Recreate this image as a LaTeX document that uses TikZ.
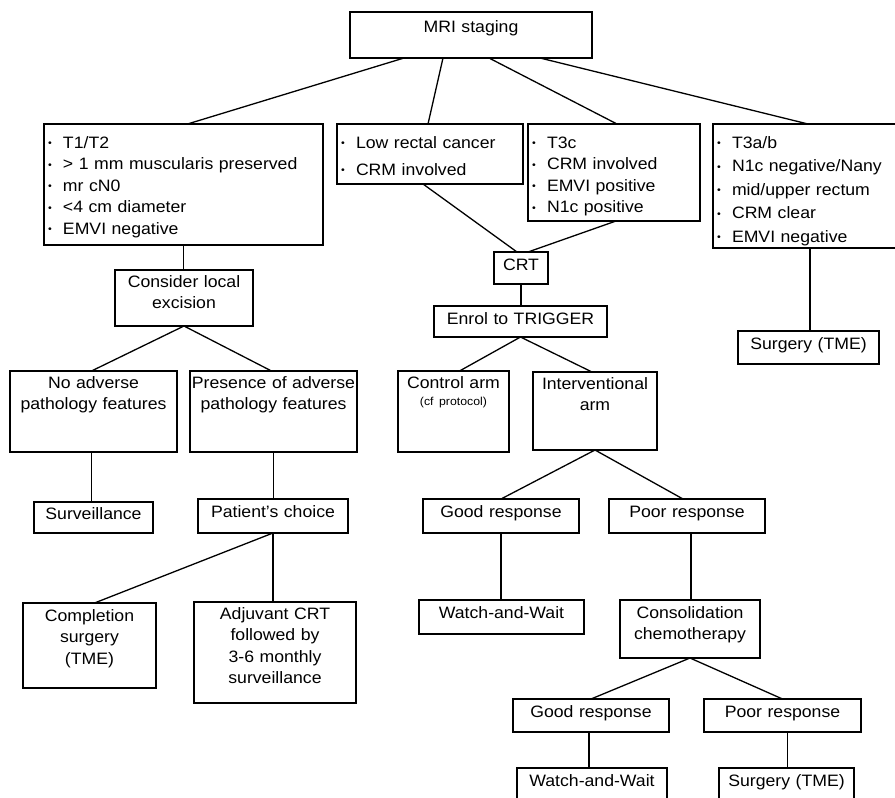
\documentclass[tikz,border=0pt]{standalone}
\usepackage{fontspec}
\setmainfont{Liberation Sans}[FakeStretch=1.07]
\newcommand{\blt}{\hspace*{4pt}\makebox[15pt][l]{\raisebox{1.5pt}{\fontsize{10}{10}\selectfont\textbullet}}}

\begin{document}
\begin{tikzpicture}[x=1pt,y=-1pt,line width=1.3pt,
    font=\fontsize{16.5}{21.5}\selectfont,
    box/.style={draw,outer sep=0pt,inner xsep=-10pt,inner ysep=0pt,
        align=center,anchor=north west},
    listbox/.style={draw,outer sep=0pt,inner sep=0pt,align=left,
        anchor=north west}]
    \useasboundingbox (0,0) rectangle (895,798);
    \clip (0,0) rectangle (895,798);

    % top level
    \node[box,text width=262pt,text height=20pt,text depth=26pt] (mri) at (350,12) {MRI staging};
    \node[listbox,text width=279pt,text height=24pt,text depth=97pt] (t12) at (44,124)
        {\blt T1/T2\\\blt > 1 mm muscularis preserved\\\blt mr cN0\\\blt <4 cm diameter\\\blt EMVI negative};
    \node[listbox,text width=186pt,text height=24pt,text depth=36pt] (low) at (337,124)
        {\blt Low rectal cancer\\[5.5pt]\blt CRM involved};
    \node[listbox,text width=172pt,text height=24pt,text depth=73pt] (t3c) at (528,124)
        {\blt T3c\\\blt CRM involved\\\blt EMVI positive\\\blt N1c positive};
    \node[listbox,text width=190pt,text height=24pt,text depth=100pt] (t3ab) at (713,124)
        {\blt T3a/b\\[2pt]\blt N1c negative/Nany\\[2pt]\blt mid/upper rectum\\[2pt]\blt CRM clear\\[2pt]\blt EMVI negative};

    % left branch
    \node[box,text width=158pt,text height=17pt,text depth=39pt] (local) at (115,270) {Consider local\\excision};
    \node[box,text width=187pt,text height=17pt,text depth=64pt] (noadv) at (10,371) {No adverse\\pathology features};
    \node[box,text width=187pt,text height=17pt,text depth=64pt] (presence) at (190,371) {Presence of adverse\\pathology features};
    \node[box,text width=139pt,text height=17pt,text depth=14pt] (surv) at (34,502) {Surveillance};
    \node[box,text width=170pt,text height=18pt,text depth=16pt] (choice) at (198,499) {Patient’s choice};
    \node[box,text width=153pt,text height=18pt,text depth=67pt] (compl) at (23,603) {Completion\\surgery\\(TME)};
    \node[box,text width=182pt,text height=17pt,text depth=84pt] (adjuv) at (194,602) {Adjuvant CRT\\followed by\\3-6 monthly\\surveillance};

    % middle branch
    \node[box,text width=74pt,text height=18pt,text depth=14pt] (crt) at (494,252) {CRT};
    \node[box,text width=193pt,text height=18pt,text depth=13pt] (enrol) at (434,306) {Enrol to TRIGGER};
    \node[box,text width=131pt,text height=17pt,text depth=64pt] (ctrl) at (398,371)
        {Control arm\\[-4.5pt]{\fontsize{11.5}{12}\selectfont (cf protocol)}};
    \node[box,text width=144pt,text height=17pt,text depth=61pt] (interv) at (533,372) {Interventional\\arm};
    \node[box,text width=176pt,text height=18pt,text depth=16pt] (good1) at (423,499) {Good response};
    \node[box,text width=176pt,text height=18pt,text depth=16pt] (poor1) at (609,499) {Poor response};
    \node[box,text width=185pt,text height=18pt,text depth=16pt] (ww1) at (419,600) {Watch-and-Wait};
    \node[box,text width=160pt,text height=18pt,text depth=40pt] (consol) at (620,600) {Consolidation\\chemotherapy};
    \node[box,text width=176pt,text height=18pt,text depth=15pt] (good2) at (513,699) {Good response};
    \node[box,text width=177pt,text height=18pt,text depth=15pt] (poor2) at (704,699) {Poor response};
    \node[box,text width=170pt,text height=18pt,text depth=34pt] (ww2) at (517,768) {Watch-and-Wait};
    \node[box,text width=155pt,text height=18pt,text depth=34pt] (surg2) at (719,768) {Surgery (TME)};

    % right branch
    \node[box,text width=161pt,text height=18pt,text depth=15pt] (surgR) at (738,331) {Surgery (TME)};

    % connectors
    \draw ([xshift=-67pt]mri.south) -- ([xshift=4pt]t12.north);
    \draw ([xshift=-28pt]mri.south) -- ([xshift=-2pt]low.north);
    \draw ([xshift=18pt]mri.south) -- ([xshift=3pt]t3c.north);
    \draw ([xshift=69pt]mri.south) -- (t3ab.north);
    \draw (t12.south) -- (t12.south |- local.north);
    \draw (local.south) -- ([xshift=-2pt]noadv.north);
    \draw (local.south) -- ([xshift=-2pt]presence.north);
    \draw ([xshift=-2pt]noadv.south) -- ([xshift=-2pt]noadv.south |- surv.north);
    \draw (presence.south) -- (presence.south |- choice.north);
    \draw (choice.south) -- ([xshift=5pt]compl.north);
    \draw (choice.south) -- (choice.south |- adjuv.north);
    \draw ([xshift=-7pt]low.south) -- ([xshift=-4pt]crt.north);
    \draw ([xshift=2pt]t3c.south) -- ([xshift=7pt]crt.north);
    \draw (crt.south) -- (crt.south |- enrol.north);
    \draw (enrol.south) -- ([xshift=6pt]ctrl.north);
    \draw (enrol.south) -- ([xshift=-3pt]interv.north);
    \draw (interv.south) -- (good1.north);
    \draw (interv.south) -- ([xshift=-4pt]poor1.north);
    \draw (good1.south) -- (good1.south |- ww1.north);
    \draw ([xshift=4pt]poor1.south) -- ([xshift=4pt]poor1.south |- consol.north);
    \draw (consol.south) -- (good2.north);
    \draw (consol.south) -- (poor2.north);
    \draw ([xshift=-2pt]good2.south) -- ([xshift=-2pt]good2.south |- ww2.north);
    \draw ([xshift=5pt]poor2.south) -- ([xshift=5pt]poor2.south |- surg2.north);
    \draw ([xshift=2pt]t3ab.south) -- ([xshift=2pt]t3ab.south |- surgR.north);
\end{tikzpicture}
\end{document}
